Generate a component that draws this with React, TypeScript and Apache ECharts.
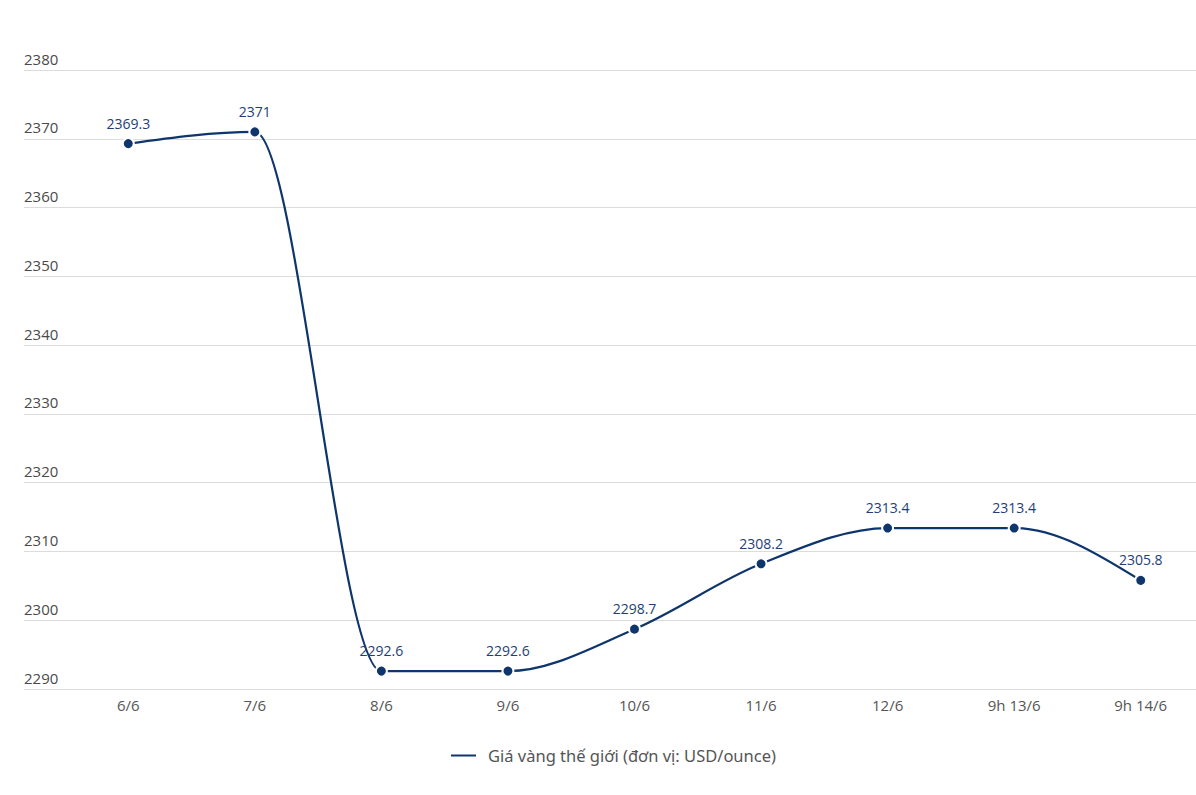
import React, { useEffect, useRef } from "react";
import * as echarts from "echarts";

const categories = ["6/6", "7/6", "8/6", "9/6", "10/6", "11/6", "12/6", "9h 13/6", "9h 14/6"];
const prices = [2369.3, 2371, 2292.6, 2292.6, 2298.7, 2308.2, 2313.4, 2313.4, 2305.8];
const seriesName = "Giá vàng thế giới (đơn vị: USD/ounce)";
const yMin = 2290;
const yMax = 2380;
const yStep = 10;

const LINE = "#0e356c";

// monotone-x tangents (in pixel space)
function tangents(pts: number[][]): number[] {
  const n = pts.length;
  const t: number[] = new Array(n).fill(0);
  const sgn = (v: number) => (v < 0 ? -1 : 1);
  for (let i = 1; i < n - 1; i++) {
    const h0 = pts[i][0] - pts[i - 1][0];
    const h1 = pts[i + 1][0] - pts[i][0];
    const s0 = (pts[i][1] - pts[i - 1][1]) / h0;
    const s1 = (pts[i + 1][1] - pts[i][1]) / h1;
    const p = (s0 * h1 + s1 * h0) / (h0 + h1);
    const v = (sgn(s0) + sgn(s1)) * Math.min(Math.abs(s0), Math.abs(s1), 0.5 * Math.abs(p));
    t[i] = isFinite(v) ? v : 0;
  }
  const h0 = pts[1][0] - pts[0][0];
  t[0] = (3 * (pts[1][1] - pts[0][1]) / h0 - t[1]) / 2;
  const hn = pts[n - 1][0] - pts[n - 2][0];
  t[n - 1] = (3 * (pts[n - 1][1] - pts[n - 2][1]) / hn - t[n - 2]) / 2;
  return t;
}

export default function App() {
  const ref = useRef<HTMLDivElement>(null);
  useEffect(() => {
    if (!ref.current) return;
    const chart = echarts.init(ref.current, null, { renderer: "svg" });
    const option: any = {
      animation: false,
      backgroundColor: "#fff",
      grid: [
        { left: 24, right: 0, top: 70, height: 619, containLabel: false, outerBoundsMode: "none" },
        { left: 65, width: 1139, top: 70, height: 619, containLabel: false, outerBoundsMode: "none" },
      ],
      xAxis: [
        { type: "value", gridIndex: 0, show: false, min: 0, max: 1 },
        {
          type: "category",
          gridIndex: 1,
          data: categories,
          boundaryGap: true,
          axisLine: { show: false },
          axisTick: { show: false },
          axisLabel: { color: "#555", fontSize: 15, margin: 8, fontFamily: "Open Sans" },
        },
      ],
      yAxis: [
        {
          type: "value",
          gridIndex: 0,
          min: yMin,
          max: yMax,
          interval: yStep,
          axisLine: { show: false },
          axisTick: { show: false },
          splitLine: { lineStyle: { color: "#dcdcdc", width: 1 } },
          axisLabel: {
            inside: true,
            verticalAlign: "bottom",
            align: "left",
            margin: 0,
            padding: [0, 0, 4, 0],
            color: "#4a4a4a",
            fontSize: 15,
            fontFamily: "Open Sans",
            formatter: (v: number) => String(v),
          },
        },
        { type: "value", gridIndex: 1, min: yMin, max: yMax, interval: yStep, show: false, splitLine: { show: false } },
      ],
      legend: {
        bottom: 26,
        left: 444,
        icon: "rect",
        itemWidth: 27,
        itemHeight: 4,
        itemGap: 12,
        textStyle: { color: "#555", fontSize: 16.5, fontFamily: "Noto Sans", padding: [0, 0, 0, 6] },
        data: [{ name: seriesName, itemStyle: { color: LINE } }],
      },
      series: [
        {
          type: "custom",
          name: "curve",
          xAxisIndex: 1,
          yAxisIndex: 1,
          z: 2,
          silent: true,
          data: prices.map((v, i) => [i, v]),
          renderItem: (params: any, api: any) => {
            const i = params.dataIndex;
            if (i >= prices.length - 1) return null;
            const pts = prices.map((v, k) => api.coord([k, v]));
            const t = tangents(pts);
            const [x0, y0] = pts[i];
            const [x1, y1] = pts[i + 1];
            const h = (x1 - x0) / 3;
            return {
              type: "bezierCurve",
              shape: {
                x1: x0,
                y1: y0,
                x2: x1,
                y2: y1,
                cpx1: x0 + h,
                cpy1: y0 + h * t[i],
                cpx2: x1 - h,
                cpy2: y1 - h * t[i + 1],
              },
              style: { stroke: LINE, lineWidth: 2.2, fill: null },
            };
          },
        },
        {
          type: "line",
          name: seriesName,
          xAxisIndex: 1,
          yAxisIndex: 1,
          z: 3,
          data: prices,
          lineStyle: { width: 0, opacity: 0 },
          symbol: "circle",
          symbolSize: 11,
          itemStyle: { color: LINE, borderColor: "#fff", borderWidth: 2 },
          label: {
            show: true,
            position: "top",
            distance: 7,
            color: "#1d4176",
            fontSize: 14,
            fontFamily: "Open Sans",
          },
        },
      ],
    };
    chart.setOption(option);
    return () => chart.dispose();
  }, []);
  return (
    <div
      ref={ref}
      style={{ position: "fixed", left: 0, top: 0, width: 1196, height: 795 }}
    />
  );
}
